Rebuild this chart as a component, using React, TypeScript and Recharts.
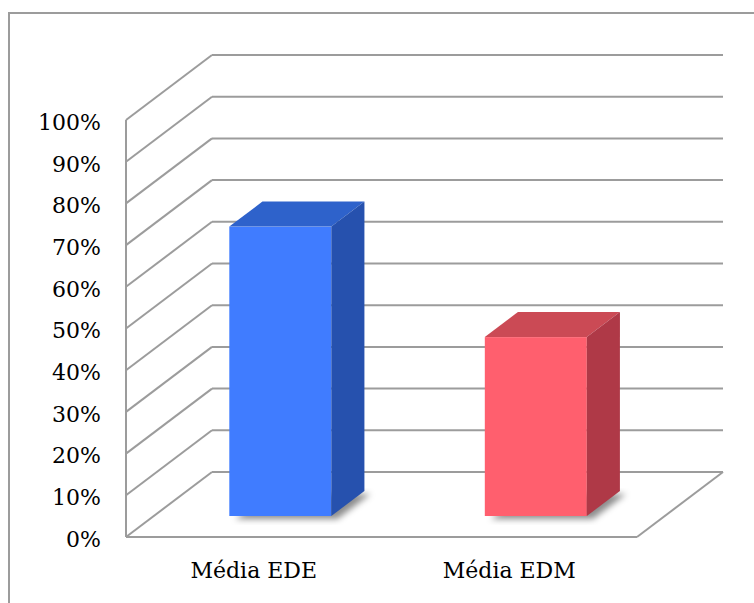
import { BarChart, Bar, XAxis, YAxis, CartesianGrid } from 'recharts';

const categories = ['Média EDE', 'Média EDM'];
const values = [0.694, 0.429];
const frontColors = ['#407CFF', '#FF5F6E'];
const topColors = ['#2E62CB', '#CB4A55'];
const sideColors = ['#2651AE', '#AF3947'];
const yTicks = [0, 0.1, 0.2, 0.3, 0.4, 0.5, 0.6, 0.7, 0.8, 0.9, 1];

const data = categories.map((name, i) => ({ name, value: values[i], idx: i }));

// 3D projection of the depth axis (back wall offset)
const DEPTH_X = 86;
const DEPTH_Y = -65;
const BAR_FRONT = 0.31; // where the bar's front face sits in depth
const BAR_DEPTH = 0.385; // bar depth as a fraction of the floor depth
const GRID = '#9C9C9C';
const FONT = "'DejaVu Serif', serif";

const Bar3D = (props: any) => {
    const { x, y, width, height } = props;
    const i = props.payload?.idx ?? props.index ?? 0;
    const ox = DEPTH_X * BAR_FRONT;
    const oy = DEPTH_Y * 0.323;
    const dx = DEPTH_X * BAR_DEPTH;
    const dy = DEPTH_Y * BAR_DEPTH;
    const fx = x + ox;
    const fy = y + oy;
    const r = fx + width;
    const b = y + height + oy;
    const fid = `shadow-${i}`;
    return (
        <g>
            <defs>
                <filter id={fid} x="-20%" y="-20%" width="140%" height="140%">
                    <feGaussianBlur stdDeviation="3" />
                </filter>
            </defs>
            <polygon
                points={`${fx + 6},${b + 3} ${r + 6},${b + 3} ${r + dx + 6},${b + dy + 3} ${fx + dx + 6},${b + dy + 3}`}
                fill="rgba(0,0,0,0.45)"
                filter={`url(#${fid})`}
            />
            <rect x={fx} y={fy} width={width} height={b - fy} fill={frontColors[i]} />
            <polygon
                points={`${fx},${fy} ${fx + dx},${fy + dy} ${r + dx},${fy + dy} ${r},${fy}`}
                fill={topColors[i]}
            />
            <polygon
                points={`${r},${fy} ${r + dx},${fy + dy} ${r + dx},${b + dy} ${r},${b}`}
                fill={sideColors[i]}
            />
        </g>
    );
};

const gridLine = (p: any) => {
    const { x1, y1, x2, index } = p;
    const isFloor = p.y !== undefined && Math.abs(y1 - (p.y + p.height)) < 0.5;
    return (
        <g key={`grid-${index}`} stroke={GRID} strokeWidth={2}>
            <line x1={x1} y1={y1} x2={x1 + DEPTH_X} y2={y1 + DEPTH_Y} />
            <line x1={x1 + DEPTH_X} y1={y1 + DEPTH_Y} x2={x2 + DEPTH_X} y2={y1 + DEPTH_Y} />
            {isFloor && <line x1={x2} y1={y1} x2={x2 + DEPTH_X} y2={y1 + DEPTH_Y} />}
        </g>
    );
};

export default function App() {
    return (
        <div
            style={{
                position: 'fixed',
                left: 0,
                top: 0,
                width: 754,
                height: 603,
                overflow: 'hidden',
                background: '#fff',
            }}
        >
            <div
                style={{
                    position: 'absolute',
                    left: 8,
                    top: 12,
                    width: 800,
                    height: 700,
                    borderLeft: `2px solid ${GRID}`,
                    borderTop: `2px solid ${GRID}`,
                }}
            />
            <div style={{ position: 'absolute', left: 0, top: 0 }}>
                <BarChart
                    width={754}
                    height={603}
                    data={data}
                    margin={{ top: 120, right: 117, bottom: 0, left: 0 }}
                    barCategoryGap="30%"
                >
                    <CartesianGrid vertical={false} horizontal={gridLine} />
                    <YAxis
                        width={126}
                        domain={[0, 1]}
                        ticks={yTicks}
                        interval={0}
                        tickFormatter={(v: number) => `${Math.round(v * 100)}%`}
                        axisLine={{ stroke: GRID, strokeWidth: 2 }}
                        tickLine={false}
                        tickSize={0}
                        tickMargin={25}
                        tick={{ fill: '#000', fontSize: 22, fontFamily: FONT, dy: 2 }}
                    />
                    <XAxis
                        dataKey="name"
                        height={66}
                        axisLine={{ stroke: GRID, strokeWidth: 2 }}
                        tickLine={false}
                        tickSize={0}
                        tickMargin={25}
                        tick={{ fill: '#000', fontSize: 22, fontFamily: FONT }}
                    />
                    <Bar dataKey="value" isAnimationActive={false} shape={Bar3D} />
                </BarChart>
            </div>
        </div>
    );
}
